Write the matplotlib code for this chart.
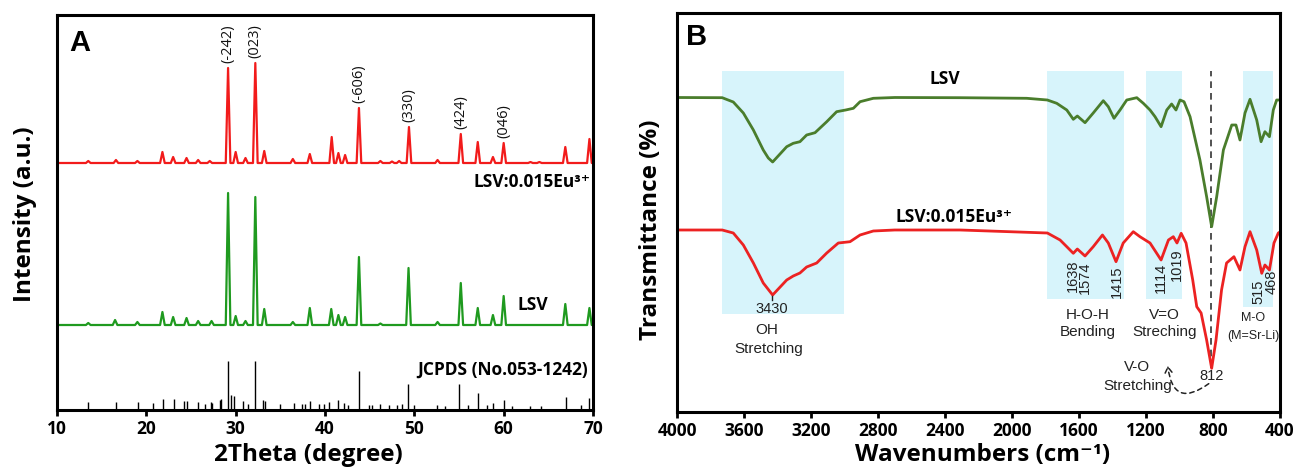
import matplotlib
matplotlib.use("Agg")
import matplotlib.pyplot as plt
from matplotlib.patches import Rectangle, FancyArrowPatch

# ---------------- Panel A data (XRD) ----------------
red_peak_pos = [13.5, 16.6, 19.0, 21.8, 23.0, 24.5, 25.8, 27.1, 29.15, 30.0, 31.1, 32.2, 33.2,
                36.4, 38.3, 40.75, 41.5, 42.25, 43.8, 46.2, 47.5, 48.3, 49.4, 52.6, 55.2, 57.1,
                58.8, 60.0, 63.0, 64.0, 66.9, 69.6]
red_peak_ht = [2, 3, 2, 11, 6, 5, 3, 2, 95, 11, 5, 100, 12,
               4, 9, 26, 10, 8, 55, 2, 1.5, 2, 36, 3, 29, 21,
               6, 20, 1, 1, 16, 24]
red_base = 247

green_peak_pos = [13.5, 16.5, 19.0, 21.8, 23.0, 24.5, 25.8, 27.3, 29.15, 30.0, 31.1, 32.2, 33.2,
                  36.4, 38.3, 40.7, 41.5, 42.25, 43.8, 46.2, 49.35, 52.6, 55.2, 57.1, 58.8,
                  60.0, 66.9, 69.6]
green_peak_ht = [2, 5, 3, 13, 8, 7, 4, 4, 132, 9, 4, 128, 16,
                 3, 17, 16, 10, 8, 68, 1.5, 57, 3, 42, 17, 10,
                 29, 21, 17]
green_base = 85

jcpds_pos = [13.5, 16.6, 19.1, 20.8, 21.9, 23.1, 24.2, 24.6, 25.8, 26.6, 27.2, 27.4, 28.2, 28.4,
             29.1, 29.5, 29.8, 30.8, 31.4, 32.2, 33.1, 33.3, 35.0, 36.5, 37.4, 37.8, 38.3, 39.3,
             39.9, 40.4, 41.5, 42.1, 42.6, 43.75, 44.9, 45.3, 46.2, 47.2, 48.1, 48.6, 49.3, 50.0,
             52.5, 53.4, 55.0, 56.0, 57.1, 58.1, 58.8, 60.0, 60.9, 63.0, 64.2, 67.0, 68.7, 69.5]
jcpds_ht = [8, 8, 8, 7, 11, 11, 9, 9, 8, 6, 8, 7, 10, 11,
            49, 15, 14, 9, 6, 49, 10, 9, 6, 7, 6, 6, 9, 6,
            6, 8, 10, 7, 5, 39, 5, 5, 6, 5, 5, 6, 26, 5,
            5, 4, 26, 5, 17, 5, 7, 10, 4, 4, 4, 13, 5, 12]

hkl_labels = ["(-242)", "(023)", "(-606)", "(330)", "(424)", "(046)"]
hkl_pos = [29.15, 32.2, 43.8, 49.4, 55.2, 60.0]

# ---------------- Panel B data (FTIR) ----------------
lsv_wn = [4000, 3730, 3664, 3604, 3544, 3485, 3455, 3429, 3345, 3306, 3266, 3226, 3176, 3106,
          3047, 2993, 2947, 2907, 2828, 2700, 2310, 1912, 1789, 1733, 1673, 1634, 1610, 1564,
          1515, 1455, 1425, 1391, 1355, 1315, 1255, 1216, 1176, 1146, 1110, 1076, 1047, 1021,
          997, 973, 937, 878, 838, 808, 778, 738, 688, 663, 639, 609, 579, 539, 513, 490, 463,
          440, 420, 400]
lsv_T = [314.5, 314.3, 310, 299, 282, 262, 254, 250, 265.3, 268.7, 270.3, 277, 279.3, 290.3,
         300.3, 302, 303.7, 310.3, 313.7, 314.5, 314.3, 313.7, 312, 308.7, 302, 292.7, 296, 289.3,
         299, 311.3, 305.3, 293.7, 302, 312, 314.3, 308.7, 302, 295.3, 285.3, 302, 308, 302,
         312, 310.3, 295.3, 252, 215.3, 185.3, 215.3, 262, 287, 287, 272, 299, 312.7, 292, 270.3,
         280.3, 275.3, 302, 312, 312]

eu_wn = [4000, 3730, 3664, 3604, 3544, 3485, 3429, 3345, 3306, 3266, 3226, 3166, 3106, 3037,
         2967, 2907, 2828, 2700, 2310, 1789, 1713, 1673, 1634, 1610, 1564, 1515, 1460, 1425,
         1379, 1336, 1276, 1236, 1176, 1110, 1066, 1037, 1015, 990, 961, 921, 897, 871, 838,
         808, 782, 749, 719, 675, 639, 609, 579, 539, 509, 490, 463, 436, 410, 400]
eu_T = [182, 182, 179, 167, 149, 129, 117, 132, 136, 139, 145, 149, 159, 169,
        170.3, 177, 181, 182, 182, 179, 172, 165.3, 158.7, 163, 156, 165.3, 177, 169,
        150.3, 169, 180.3, 175.3, 169, 152, 172, 175.3, 169, 178.7, 169, 132, 105.3, 99, 72,
        43.7, 72, 122, 149, 155.3, 142, 165.3, 180.3, 162, 138.7, 147, 142, 169, 179, 180]

band_regions = [(3730, 3000, 98), (1790, 1330, 113), (1200, 985, 113), (620, 440, 105)]
band_top = 341

peak_labels = ["1638", "1574", "1415", "1114", "1019", "515", "468"]
peak_label_wn = [1634, 1564, 1375, 1110, 1015, 530, 452]
peak_label_T = [153, 151, 147, 149, 164, 132, 142]

# ---------------- style ----------------
BOLD = ["Open Sans", "DejaVu Sans"]
ANN = "Liberation Sans"
RED_A = "#f21b1b"
GREEN_A = "#1f9a1f"
RED_B = "#ec2222"
GREEN_B = "#4a7d2c"
SHADE = "#d7f4fb"

fig = plt.figure(figsize=(12.94, 4.71), dpi=100)
axA = fig.add_axes([57 / 1294, 1 - 410 / 471, 536 / 1294, 395 / 471])
axB = fig.add_axes([677 / 1294, 1 - 412 / 471, 603 / 1294, 399 / 471])


def polyline(pos, hts, base, w=0.26, x0=10, x1=70):
    xs, ys = [x0], [base]
    for p, h in zip(pos, hts):
        xs += [p - w, p, p + w]
        ys += [base, base + h, base]
    xs.append(x1)
    ys.append(base)
    return xs, ys


for ax in (axA, axB):
    for s in ax.spines.values():
        s.set_linewidth(2.2)
    ax.tick_params(axis="x", direction="out", length=4.5, width=2, pad=3)
    ax.tick_params(axis="y", left=False, labelleft=False)

# ---- Panel A ----
xr, yr = polyline(red_peak_pos, red_peak_ht, red_base)
xg, yg = polyline(green_peak_pos, green_peak_ht, green_base)
axA.plot(xr, yr, color=RED_A, lw=1.6)
axA.plot(xg, yg, color=GREEN_A, lw=1.6)
axA.vlines(jcpds_pos, 0, jcpds_ht, color="black", lw=1.0)
axA.set_xlim(10, 70)
axA.set_ylim(0, 395)
axA.set_xticks([10, 20, 30, 40, 50, 60, 70])

pk_top = dict(zip(red_peak_pos, red_peak_ht))
for lab, p in zip(hkl_labels, hkl_pos):
    axA.text(p, red_base + pk_top[p] + 5, lab, rotation=90, ha="center", va="bottom",
             fontsize=10.5, family="Open Sans", color="#111111")

axA.text(12.5, 367, "A", fontsize=21, fontweight="bold", family=ANN, ha="center", va="center")
axA.text(69.7, 228, "LSV:0.015Eu³⁺", fontsize=12.5, fontweight="bold", family=BOLD,
         ha="right", va="center")
axA.text(63.25, 105, "LSV", fontsize=12.5, fontweight="bold", family=BOLD, ha="center",
         va="center")
axA.text(69.4, 40, "JCPDS (No.053-1242)", fontsize=12.5, fontweight="bold", family=BOLD,
         ha="right", va="center")

# ---- Panel B ----
for (a, b, lo) in band_regions:
    axB.add_patch(Rectangle((b, lo), a - b, band_top - lo, facecolor=SHADE, edgecolor="none",
                            zorder=0))
axB.vlines(810, 44, band_top, colors="#333333", linestyles=(0, (4, 3)), lw=1.2, zorder=1)
axB.plot(lsv_wn, lsv_T, color=GREEN_B, lw=2.0, zorder=2)
axB.plot(eu_wn, eu_T, color=RED_B, lw=2.0, zorder=2)
axB.set_xlim(4000, 400)
axB.set_ylim(0, 399)
axB.set_xticks(list(range(4000, 399, -400)))

axB.text(3881, 375, "B", fontsize=21, fontweight="bold", family=ANN, ha="center", va="center")
axB.text(2400, 333, "LSV", fontsize=12.5, fontweight="bold", family=BOLD, ha="center",
         va="center")
axB.text(2346, 195, "LSV:0.015Eu³⁺", fontsize=12.5, fontweight="bold", family=BOLD,
         ha="center", va="center")

for lab, x, t in zip(peak_labels, peak_label_wn, peak_label_T):
    axB.text(x, t, lab, rotation=90, ha="center", va="top", fontsize=10.5, family=ANN,
             color="#222222")

axB.plot([3430, 3430], [112, 116], color="#222222", lw=1)
ann = dict(family=ANN, color="#222222", ha="center", va="center")
axB.text(3435, 103, "3430", fontsize=10.5, **ann)
axB.text(3464, 82, "OH", fontsize=11, **ann)
axB.text(3450, 63, "Stretching", fontsize=11, **ann)
axB.text(1546, 97, "H-O-H", fontsize=11, **ann)
axB.text(1546, 80, "Bending", fontsize=11, **ann)
axB.text(1093, 97, "V=O", fontsize=11, **ann)
axB.text(1087, 80, "Streching", fontsize=11, **ann)
axB.text(563, 94, "M-O", fontsize=9, **ann)
axB.text(560, 76, "(M=Sr-Li)", fontsize=9, **ann)
axB.text(808, 36, "812", fontsize=10.5, **ann)
axB.text(1255, 45, "V-O", fontsize=11, **ann)
axB.text(1248, 26, "Stretching", fontsize=11, **ann)
arr = FancyArrowPatch(posA=(812, 30), posB=(1072, 49), connectionstyle="arc3,rad=-0.9",
                      arrowstyle="->,head_length=4,head_width=2.5", linestyle=(0, (3, 2.5)),
                      color="#222222", lw=1.1, mutation_scale=1)
axB.add_patch(arr)

for ax in (axA, axB):
    for lab in ax.get_xticklabels():
        lab.set_fontfamily(BOLD)
        lab.set_fontweight("bold")
        lab.set_fontsize(12.5)

lab_kw = dict(fontsize=17.5, fontweight="bold", family=BOLD, ha="center", va="center")
fig.text(308 / 1294, 1 - 455 / 471, "2Theta (degree)", **lab_kw)
fig.text(983 / 1294, 1 - 455 / 471, "Wavenumbers (cm⁻¹)", **lab_kw)
fig.text(25 / 1294, 1 - 214 / 471, "Intensity (a.u.)", rotation=90, **lab_kw)
fig.text(651 / 1294, 1 - 230 / 471, "Transmittance (%)", rotation=90, **lab_kw)

fig.savefig("out.png", dpi=100)
